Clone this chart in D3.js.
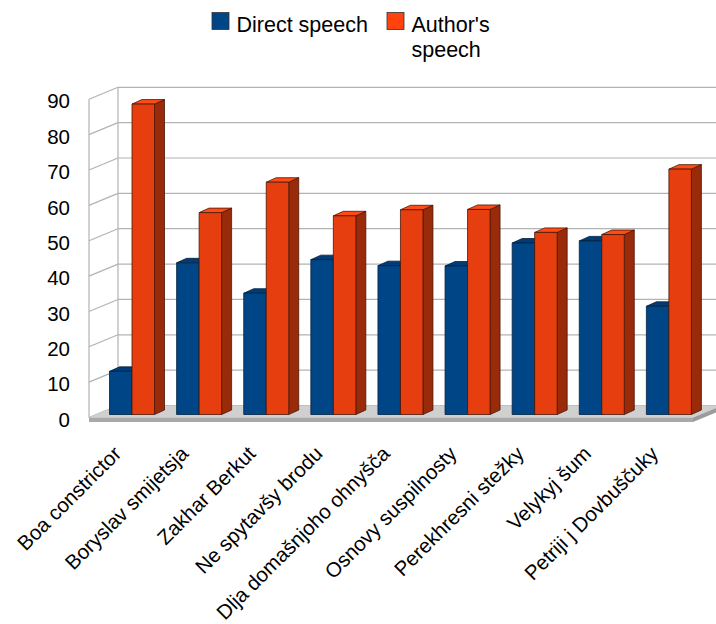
<!DOCTYPE html>
<html>
<head>
<meta charset="utf-8">
<script src="https://cdn.jsdelivr.net/npm/d3@7"></script>
<style>
  html, body { margin: 0; padding: 0; background: #fff; }
  svg { display: block; font-family: "Liberation Sans", Arial, sans-serif; }
</style>
</head>
<body>
<svg id="chart" width="716" height="624"></svg>
<script>
// Share of direct vs. author's speech per text (percent)
const categories = [
  "Boa constrictor", "Boryslav smijetsja", "Zakhar Berkut", "Ne spytavšy brodu",
  "Dlja domašnjoho ohnyšča", "Osnovy suspilnosty", "Perekhresni stežky",
  "Velykyj šum", "Petriji j Dovbuščuky"
];
const seriesNames = ["Direct speech", "Author's speech"];
const directSpeech = [12.2, 42.9, 34.3, 43.8, 42.1, 42.0, 48.5, 49.1, 30.6];
const authorSpeech = [87.8, 57.1, 65.7, 56.2, 57.9, 58.0, 51.5, 50.9, 69.4];
const yTicks = [0, 10, 20, 30, 40, 50, 60, 70, 80, 90];

const series = [directSpeech, authorSpeech];
const palette = [
  { front: "#004586", top: "#003c75", side: "#00305e", stroke: "#00213f" },
  { front: "#e63e0f", top: "#ff4b14", side: "#992a0a", stroke: "#4a1606" }
];

const svg = d3.select("#chart");

// Oblique projection: back wall plane, floor depth offset toward the viewer
const backLeft = 118, backRight = 722;
const depth = { dx: -29, dy: 12 };
const yBack = d3.scaleLinear().domain([0, 90]).range([405.5, 87.3]);

// Bars sit in a plane part-way into the floor
const barShift = { dx: -21.5, dy: 9 };
const yBar = d3.scaleLinear().domain([0, 90])
  .range([yBack(0) + barShift.dy, yBack(90) + barShift.dy]);
const x0 = d3.scaleBand().domain(categories)
  .range([backLeft + barShift.dx, backRight + barShift.dx]);
const x1 = d3.scaleBand().domain(d3.range(series.length)).range([13, 58]);
const barDepth = { dx: 10, dy: 4.5 };

const grid = svg.append("g").attr("stroke", "#b3b3b3").attr("stroke-width", 1.2).attr("fill", "none");

// Back wall gridlines
grid.selectAll("line.back").data(yTicks).join("line")
  .attr("class", "back")
  .attr("x1", backLeft).attr("x2", 716)
  .attr("y1", d => yBack(d)).attr("y2", d => yBack(d));

// Left side wall gridlines (diagonal)
grid.selectAll("line.side").data(yTicks).join("line")
  .attr("class", "side")
  .attr("x1", backLeft + depth.dx).attr("y1", d => yBack(d) + depth.dy)
  .attr("x2", backLeft).attr("y2", d => yBack(d));

// Wall corner edges
grid.append("line")
  .attr("x1", backLeft).attr("x2", backLeft)
  .attr("y1", yBack(0)).attr("y2", yBack(90));
grid.append("line")
  .attr("x1", backLeft + depth.dx).attr("x2", backLeft + depth.dx)
  .attr("y1", yBack(0) + depth.dy).attr("y2", yBack(90) + depth.dy);

// Floor slab
const f0 = yBack(0), thick = 4.5;
const fl = backLeft + depth.dx, fr = backRight + depth.dx;
svg.append("polygon")
  .attr("points", [[backLeft, f0], [backRight, f0], [fr, f0 + depth.dy], [fl, f0 + depth.dy]].join(" "))
  .attr("fill", "#d0d0d0");
svg.append("polygon")
  .attr("points", [[fl, f0 + depth.dy], [fr, f0 + depth.dy], [fr, f0 + depth.dy + thick], [fl, f0 + depth.dy + thick]].join(" "))
  .attr("fill", "#a9a9a9");
svg.append("polygon")
  .attr("points", [[fr, f0 + depth.dy], [backRight, f0], [backRight, f0 + thick], [fr, f0 + depth.dy + thick]].join(" "))
  .attr("fill", "#9c9c9c");

// Y axis labels along the front edge of the side wall
svg.append("g").selectAll("text").data(yTicks).join("text")
  .attr("x", 70)
  .attr("y", d => yBack(d) + depth.dy + 2)
  .attr("dy", "0.35em")
  .attr("text-anchor", "end")
  .attr("font-size", 20.5)
  .attr("fill", "#000")
  .text(d => d);

// 3D bars
const bars = svg.append("g");
categories.forEach((cat, i) => {
  series.forEach((vals, s) => {
    const v = vals[i];
    const x = x0(cat) + x1(s);
    const w = x1.bandwidth();
    const yt = yBar(v), yb = yBar(0);
    const c = palette[s];
    const g = bars.append("g").attr("stroke", c.stroke).attr("stroke-width", 0.8).attr("stroke-linejoin", "round");
    g.append("polygon")
      .attr("points", [[x + w, yt], [x + w + barDepth.dx, yt - barDepth.dy],
                       [x + w + barDepth.dx, yb - barDepth.dy], [x + w, yb]].join(" "))
      .attr("fill", c.side);
    g.append("polygon")
      .attr("points", [[x, yt], [x + barDepth.dx, yt - barDepth.dy],
                       [x + w + barDepth.dx, yt - barDepth.dy], [x + w, yt]].join(" "))
      .attr("fill", c.top);
    g.append("rect")
      .attr("x", x).attr("y", yt)
      .attr("width", w).attr("height", yb - yt)
      .attr("fill", c.front);
  });
});

// Category labels, rotated
svg.append("g").selectAll("text").data(categories).join("text")
  .attr("transform", d => `translate(${x0(d) + 26},${455}) rotate(-45)`)
  .attr("text-anchor", "end")
  .attr("font-size", 20.5)
  .attr("fill", "#000")
  .text(d => d);

// Legend
const legend = svg.append("g").attr("font-size", 21.5).attr("fill", "#000");
const legendItems = [
  { name: seriesNames[0], x: 212, color: palette[0].front, lines: ["Direct speech"] },
  { name: seriesNames[1], x: 387, color: "#ff420e", lines: ["Author's", "speech"] }
];
legendItems.forEach(item => {
  legend.append("rect")
    .attr("x", item.x).attr("y", 12.5).attr("width", 17).attr("height", 17)
    .attr("fill", item.color).attr("stroke", "#333").attr("stroke-width", 0.8);
  const t = legend.append("text").attr("x", item.x + 24.5).attr("y", 31.5);
  item.lines.forEach((ln, k) => {
    t.append("tspan").attr("x", item.x + 24.5).attr("dy", k === 0 ? 0 : 25).text(ln);
  });
});
</script>
</body>
</html>
